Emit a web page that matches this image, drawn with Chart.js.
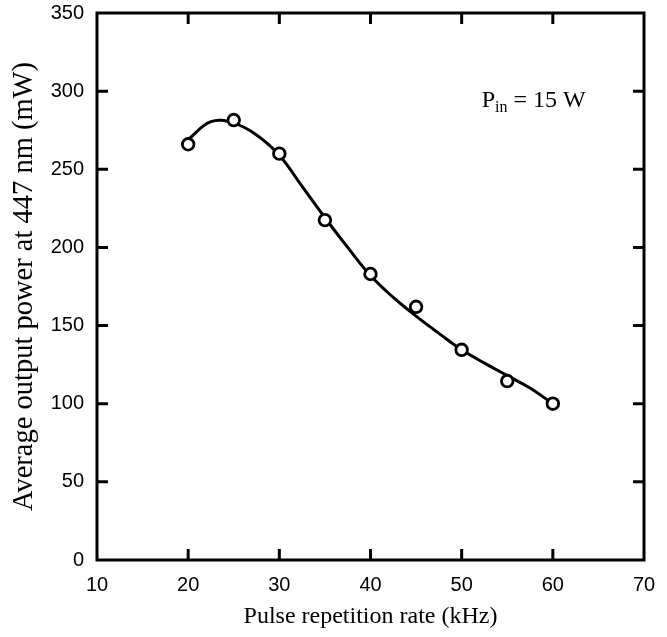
<!DOCTYPE html>
<html>
<head>
<meta charset="utf-8">
<script src="https://cdn.jsdelivr.net/npm/chart.js@4/dist/chart.umd.min.js"></script>
<style>
    html, body { margin: 0; padding: 0; background: #ffffff; }
    #wrap { width: 667px; height: 637px; position: relative; }
</style>
</head>
<body>
<div id="wrap"><canvas id="potenciaChart"></canvas></div>
<script>
// medidas (kHz, mW)
const taxas = [20, 25, 30, 35, 40, 45, 50, 55, 60];
const potencias = [266, 281.5, 260, 217.5, 183, 162, 134.5, 114.5, 100];

// curva de ajuste
const ajusteTaxas = [20, 22.5, 25, 27.5, 30, 32.5, 35, 37.5, 40, 42.5, 45, 47.5, 50, 52.5, 55, 57.5, 60];
const ajustePotencias = [269, 280.5, 279.5, 272, 259, 239, 219, 200, 182, 168, 156, 145, 134.5, 126, 118, 110, 100];

const ticksX = [10, 20, 30, 40, 50, 60, 70];
const ticksY = [0, 50, 100, 150, 200, 250, 300, 350];

const SERIF = '"Liberation Serif", "Times New Roman", serif';
const SANS = '"Liberation Sans", Arial, sans-serif';

// moldura + ticks para dentro nos quatro lados
const molduraPlugin = {
    id: 'moldura',
    afterDraw(chart) {
        const { ctx, chartArea: a, scales: { x, y } } = chart;
        const len = 11;
        ctx.save();
        ctx.strokeStyle = '#000000';
        ctx.lineWidth = 3;
        ctx.strokeRect(a.left, a.top, a.right - a.left, a.bottom - a.top);
        ctx.beginPath();
        ticksX.slice(1, -1).forEach(v => {
            const px = x.getPixelForValue(v);
            ctx.moveTo(px, a.bottom); ctx.lineTo(px, a.bottom - len);
            ctx.moveTo(px, a.top); ctx.lineTo(px, a.top + len);
        });
        ticksY.slice(1, -1).forEach(v => {
            const py = y.getPixelForValue(v);
            ctx.moveTo(a.left, py); ctx.lineTo(a.left + len, py);
            ctx.moveTo(a.right, py); ctx.lineTo(a.right - len, py);
        });
        ctx.stroke();

        // anotação P_in = 15 W
        const tx = x.getPixelForValue(52.2);
        const ty = y.getPixelForValue(290);
        ctx.fillStyle = '#000000';
        ctx.textBaseline = 'alphabetic';
        ctx.textAlign = 'left';
        ctx.font = '24px ' + SERIF;
        ctx.fillText('P', tx, ty);
        let w = ctx.measureText('P').width;
        ctx.font = '16px ' + SERIF;
        ctx.fillText('in', tx + w, ty + 5);
        w += ctx.measureText('in').width;
        ctx.font = '24px ' + SERIF;
        ctx.fillText(' = 15 W', tx + w, ty);
        ctx.restore();
    }
};

const ctxPot = document.getElementById('potenciaChart');
new Chart(ctxPot, {
    type: 'scatter',
    data: {
        datasets: [
            {
                label: 'ajuste',
                data: ajusteTaxas.map((t, i) => ({ x: t, y: ajustePotencias[i] })),
                showLine: true,
                borderColor: '#000000',
                borderWidth: 3,
                pointRadius: 0,
                tension: 0.4,
                order: 2
            },
            {
                label: 'medido',
                data: taxas.map((t, i) => ({ x: t, y: potencias[i] })),
                showLine: false,
                pointStyle: 'circle',
                pointRadius: 5.8,
                pointBorderWidth: 2.8,
                pointBorderColor: '#000000',
                pointBackgroundColor: '#ffffff',
                order: 1
            }
        ]
    },
    options: {
        responsive: true,
        maintainAspectRatio: false,
        animation: false,
        layout: { padding: { top: 13, right: 23, left: 0, bottom: 0 } },
        plugins: { legend: { display: false }, tooltip: { enabled: false } },
        scales: {
            x: {
                type: 'linear',
                min: 10, max: 70,
                afterFit: s => { s.height = 77; s.paddingLeft = 0; s.paddingRight = 0; },
                afterBuildTicks: s => { s.ticks = ticksX.map(v => ({ value: v })); },
                grid: { display: false, drawTicks: false, tickLength: 0 },
                border: { display: false },
                ticks: { color: '#000000', padding: 13, maxRotation: 0, font: { family: SANS, size: 20 } },
                title: {
                    display: true,
                    text: 'Pulse repetition rate (kHz)',
                    color: '#000000',
                    font: { family: SERIF, size: 24, lineHeight: 1 },
                    padding: { top: 0, bottom: 8 }
                }
            },
            y: {
                type: 'linear',
                min: 0, max: 350,
                afterFit: s => { s.width = 97; s.paddingTop = 0; s.paddingBottom = 0; },
                afterBuildTicks: s => { s.ticks = ticksY.map(v => ({ value: v })); },
                grid: { display: false, drawTicks: false, tickLength: 0 },
                border: { display: false },
                ticks: { color: '#000000', padding: 13, font: { family: SANS, size: 20 } },
                title: {
                    display: true,
                    text: 'Average output power at 447 nm (mW)',
                    color: '#000000',
                    font: { family: SERIF, size: 28.5, lineHeight: 1 },
                    padding: { top: 10, bottom: 0 }
                }
            }
        }
    },
    plugins: [molduraPlugin]
});
</script>
</body>
</html>
